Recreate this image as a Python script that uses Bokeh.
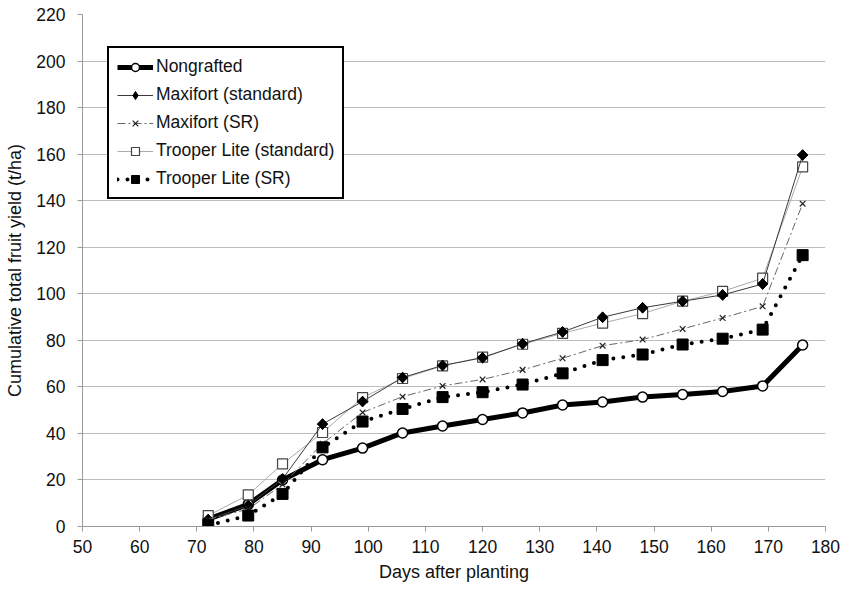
import math
from bokeh.plotting import figure
from bokeh.models import Range1d, SingleIntervalTicker, Legend, LegendItem
from bokeh.embed import file_html
from bokeh.resources import INLINE

days = [72, 79, 85, 92, 99, 106, 113, 120, 127, 134, 141, 148, 155, 162, 169, 176]
nongrafted = [3.2, 9.5, 20, 28.7, 33.7, 40.2, 43.2, 46, 48.8, 52.2, 53.5, 55.6, 56.7, 58, 60.4, 78]
maxifort_std = [3, 9, 20.4, 44, 53.7, 64, 69.2, 72.5, 78.5, 83.6, 89.9, 94, 96.8, 99.5, 104.2, 159.6]
maxifort_sr = [3, 7.5, 18, 35.6, 49, 55.8, 60.4, 63.2, 67.3, 72.3, 77.7, 80.3, 84.9, 89.6, 94.6, 138.7]
trooper_std = [4.7, 13.6, 26.9, 40.4, 55.4, 63.6, 69, 72.8, 78.3, 83, 87.4, 91.5, 96.8, 101, 106.7, 154.5]
trooper_sr = [0.5, 4.7, 14, 34, 45.1, 50.5, 55.6, 57.7, 61, 65.8, 71.5, 73.9, 78.2, 80.7, 84.6, 116.6]

labels = ["Nongrafted", "Maxifort (standard)", "Maxifort (SR)",
          "Trooper Lite (standard)", "Trooper Lite (SR)"]

FONT = "Liberation Sans"
GRID = "#bdbdbd"

p = figure(width=853, height=592, output_backend="svg", toolbar_location=None,
           x_range=Range1d(50, 180), y_range=Range1d(0, 220))
p.min_border_left = 82
p.min_border_right = 28
p.min_border_top = 14
p.min_border_bottom = 66
p.outline_line_color = None
p.background_fill_color = "white"

p.xgrid.grid_line_color = None
p.ygrid.grid_line_color = GRID
p.ygrid.grid_line_width = 1

p.xaxis.ticker = SingleIntervalTicker(interval=10)
p.yaxis.ticker = SingleIntervalTicker(interval=20)
for ax in (p.xaxis[0], p.yaxis[0]):
    ax.axis_line_color = "#9a9a9a"
    ax.major_tick_line_color = "#9a9a9a"
    ax.major_tick_out = 5
    ax.major_tick_in = 0
    ax.minor_tick_line_color = None
    ax.major_label_text_font = FONT
    ax.major_label_text_font_size = "17.5px"
    ax.major_label_text_color = "#111111"
    ax.axis_label_text_font = FONT
    ax.axis_label_text_font_size = "18px"
    ax.axis_label_text_font_style = "normal"
    ax.axis_label_text_color = "#111111"
p.xaxis.axis_label = "Days after planting"
p.yaxis.axis_label = "Cumulative total fruit yield (t/ha)"
p.xaxis.major_label_standoff = 8
p.yaxis.major_label_standoff = 12
p.xaxis.axis_label_standoff = 6
p.yaxis.axis_label_standoff = 8

# Nongrafted
l0 = p.line(days, nongrafted, line_color="black", line_width=5)
m0 = p.scatter(days, nongrafted, marker="circle", size=10, fill_color="white",
               line_color="black", line_width=1.5)
# Trooper Lite (standard)
l3 = p.line(days, trooper_std, line_color="#aaaaaa", line_width=1)
m3 = p.scatter(days, trooper_std, marker="square", size=10, fill_color="white",
               line_color="#444444", line_width=1.2)
# Maxifort (standard): diamond (also used by the legend) under a rotated square
l1 = p.line(days, maxifort_std, line_color="#3a3a3a", line_width=1)
m1_leg = p.scatter(days, maxifort_std, marker="diamond", size=10.5,
                   fill_color="black", line_color="black")
m1 = p.scatter(days, maxifort_std, marker="square", size=7.5, angle=math.pi / 4,
               fill_color="black", line_color="black")
# Maxifort (SR)
l2 = p.line(days, maxifort_sr, line_color="#666666", line_width=1, line_dash="8 3 2 3")
m2 = p.scatter(days, maxifort_sr, marker="x", size=8, line_color="#222222", line_width=1.2)
# Trooper Lite (SR)
l4 = p.line(days, trooper_sr, line_color="black", line_width=4, line_dash="0 10",
            line_cap="round")
m4 = p.scatter(days, trooper_sr, marker="square", size=11, fill_color="black",
               line_color="black")

legend = Legend(items=[
    LegendItem(label=labels[0], renderers=[l0, m0]),
    LegendItem(label=labels[1], renderers=[l1, m1_leg]),
    LegendItem(label=labels[2], renderers=[l2, m2]),
    LegendItem(label=labels[3], renderers=[l3, m3]),
    LegendItem(label=labels[4], renderers=[l4, m4]),
], location=(25, 327))
legend.border_line_color = "black"
legend.border_line_alpha = 1
legend.border_line_width = 2
legend.background_fill_color = "white"
legend.background_fill_alpha = 1
legend.padding = 8
legend.spacing = 7
legend.margin = 0
legend.glyph_width = 36
legend.glyph_height = 20
legend.label_height = 20
legend.label_standoff = 3
legend.label_text_font = FONT
legend.label_text_font_size = "17.5px"
legend.label_text_color = "#111111"
legend.label_text_baseline = "middle"
p.add_layout(legend, "center")

open("out.html", "w").write(file_html(p, INLINE))
